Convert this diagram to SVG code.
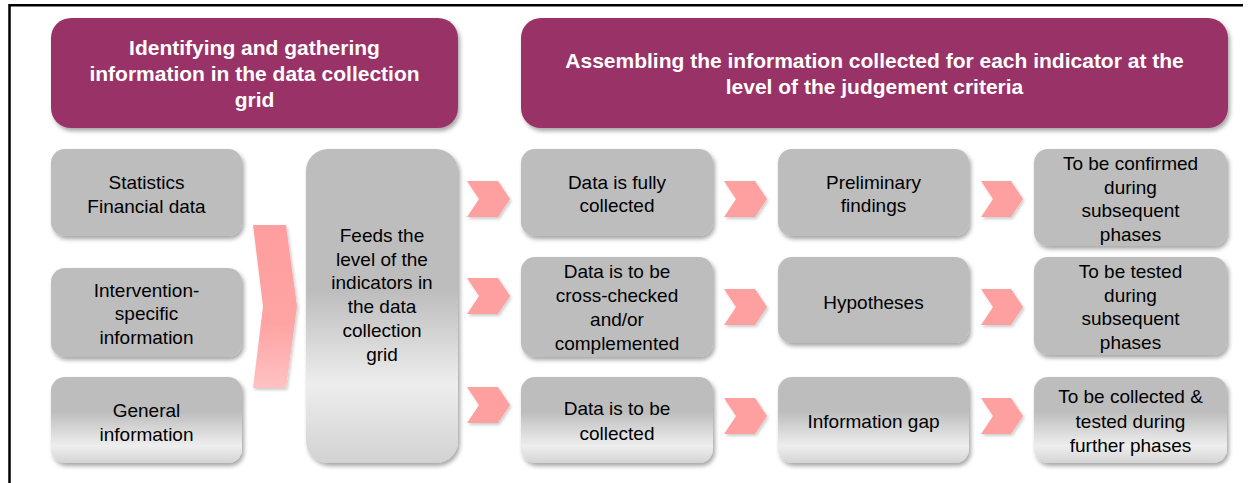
<svg xmlns="http://www.w3.org/2000/svg" width="1249" height="483" viewBox="0 0 1249 483">
<defs>
<filter id="sh" x="-10%" y="-10%" width="125%" height="130%">
<feDropShadow dx="2" dy="3" stdDeviation="2" flood-color="#000" flood-opacity="0.35"/>
</filter>
<filter id="shc" x="-10%" y="-10%" width="130%" height="130%">
<feDropShadow dx="1.5" dy="2" stdDeviation="1.5" flood-color="#000" flood-opacity="0.2"/>
</filter>
<linearGradient id="gBot" x1="0" y1="0" x2="0" y2="1">
<stop offset="0" stop-color="#BDBDBD"/>
<stop offset="0.4" stop-color="#BDBDBD"/>
<stop offset="0.8" stop-color="#EEEEEE"/>
<stop offset="1" stop-color="#D4D4D4"/>
</linearGradient>
<linearGradient id="gTall" x1="0" y1="0" x2="0" y2="1">
<stop offset="0" stop-color="#BDBDBD"/>
<stop offset="0.45" stop-color="#BDBDBD"/>
<stop offset="0.75" stop-color="#EDEDED"/>
<stop offset="1" stop-color="#D2D2D2"/>
</linearGradient>
<linearGradient id="gArrow" x1="0" y1="0" x2="0" y2="1">
<stop offset="0" stop-color="#FF9E9E"/>
<stop offset="0.6" stop-color="#FFA3A3"/>
<stop offset="1" stop-color="#FFC2C2"/>
</linearGradient>
</defs>
<style>
.hdr{fill:#993366;filter:url(#sh)}
.box{fill:#BDBDBD;filter:url(#sh)}
.chev{fill:#FFA0A0;filter:url(#shc)}
.ht{font-family:"Liberation Sans",Arial,sans-serif;font-size:21px;font-weight:bold;fill:#FFFFFF;text-anchor:middle}
.bt{font-family:"Liberation Sans",Arial,sans-serif;font-size:19px;fill:#000000;text-anchor:middle}
.frame{stroke:#000;stroke-width:2.5;fill:none}
</style>
<rect width="1249" height="483" fill="#FFFFFF"/>
<path class="frame" d="M1243,5.3 H9.5 V483"/>

<g id="header-left">
<rect class="hdr" x="51" y="18" width="407" height="110" rx="20"/>
<text class="ht" x="254.5" y="55">Identifying and gathering</text>
<text class="ht" x="254.5" y="81">information in the data collection</text>
<text class="ht" x="254.5" y="107">grid</text>
</g>
<g id="header-right">
<rect class="hdr" x="521" y="18" width="707" height="110" rx="20"/>
<text class="ht" x="874.5" y="68">Assembling the information collected for each indicator at the</text>
<text class="ht" x="874.5" y="94">level of the judgement criteria</text>
</g>

<g id="statistics">
<rect class="box" x="51" y="149" width="191" height="87" rx="14"/>
<text class="bt" x="146.5" y="189">Statistics</text>
<text class="bt" x="146.5" y="213">Financial data</text>
</g>
<g id="intervention">
<rect class="box" x="51" y="268" width="191" height="89" rx="14"/>
<text class="bt" x="146.5" y="297">Intervention-</text>
<text class="bt" x="146.5" y="320">specific</text>
<text class="bt" x="146.5" y="344">information</text>
</g>
<g id="general">
<rect class="box" x="51" y="377" width="191" height="86" rx="14" fill="url(#gBot)" style="fill:url(#gBot)"/>
<text class="bt" x="146.5" y="417">General</text>
<text class="bt" x="146.5" y="441">information</text>
</g>

<g id="feeds">
<rect class="box" x="306" y="149" width="152" height="314" rx="22" style="fill:url(#gTall)"/>
<text class="bt" x="382" y="242">Feeds the</text>
<text class="bt" x="382" y="266">level of the</text>
<text class="bt" x="382" y="289">indicators in</text>
<text class="bt" x="382" y="313">the data</text>
<text class="bt" x="382" y="337">collection</text>
<text class="bt" x="382" y="361">grid</text>
</g>

<g id="data-full">
<rect class="box" x="521" y="149" width="192" height="87" rx="14"/>
<text class="bt" x="617" y="189">Data is fully</text>
<text class="bt" x="617" y="212">collected</text>
</g>
<g id="data-cross">
<rect class="box" x="521" y="257" width="192" height="100" rx="14"/>
<text class="bt" x="617" y="278">Data is to be</text>
<text class="bt" x="617" y="302">cross-checked</text>
<text class="bt" x="617" y="326">and/or</text>
<text class="bt" x="617" y="350">complemented</text>
</g>
<g id="data-tobe">
<rect class="box" x="521" y="377" width="192" height="86" rx="14" style="fill:url(#gBot)"/>
<text class="bt" x="617" y="415">Data is to be</text>
<text class="bt" x="617" y="440">collected</text>
</g>

<g id="preliminary">
<rect class="box" x="778" y="149" width="191" height="87" rx="14"/>
<text class="bt" x="873.5" y="189">Preliminary</text>
<text class="bt" x="873.5" y="212">findings</text>
</g>
<g id="hypotheses">
<rect class="box" x="778" y="257" width="191" height="86" rx="14"/>
<text class="bt" x="873.5" y="309">Hypotheses</text>
</g>
<g id="info-gap">
<rect class="box" x="778" y="377" width="191" height="86" rx="14" style="fill:url(#gBot)"/>
<text class="bt" x="873.5" y="428">Information gap</text>
</g>

<g id="confirmed">
<rect class="box" x="1034" y="149" width="193" height="97" rx="14"/>
<text class="bt" x="1130.5" y="170">To be confirmed</text>
<text class="bt" x="1130.5" y="194">during</text>
<text class="bt" x="1130.5" y="217">subsequent</text>
<text class="bt" x="1130.5" y="241">phases</text>
</g>
<g id="tested">
<rect class="box" x="1034" y="257" width="193" height="98" rx="14"/>
<text class="bt" x="1130.5" y="278">To be tested</text>
<text class="bt" x="1130.5" y="302">during</text>
<text class="bt" x="1130.5" y="325">subsequent</text>
<text class="bt" x="1130.5" y="349">phases</text>
</g>
<g id="collected-tested">
<rect class="box" x="1034" y="377" width="193" height="86" rx="14" style="fill:url(#gBot)"/>
<text class="bt" x="1130.5" y="403">To be collected &amp;</text>
<text class="bt" x="1130.5" y="428">tested during</text>
<text class="bt" x="1130.5" y="452">further phases</text>
</g>

<g id="connectors">
<polygon class="chev" points="253,225 286,225 297,306.5 286,388 253,388 263,306.5" style="fill:url(#gArrow)"/>
<polygon class="chev" points="467,181 498,181 510,199 498,217 467,217 479,199"/>
<polygon class="chev" points="467,278 498,278 510,296 498,314 467,314 479,296"/>
<polygon class="chev" points="467,387 498,387 510,405 498,423 467,423 479,405"/>
<polygon class="chev" points="724,181 755,181 767,199 755,217 724,217 736,199"/>
<polygon class="chev" points="724,289 755,289 767,307 755,325 724,325 736,307"/>
<polygon class="chev" points="724,398 755,398 767,416 755,434 724,434 736,416"/>
<polygon class="chev" points="981,181 1011,181 1023,199 1011,217 981,217 993,199"/>
<polygon class="chev" points="981,289 1011,289 1023,307 1011,325 981,325 993,307"/>
<polygon class="chev" points="981,398 1011,398 1023,416 1011,434 981,434 993,416"/>
</g>
</svg>
